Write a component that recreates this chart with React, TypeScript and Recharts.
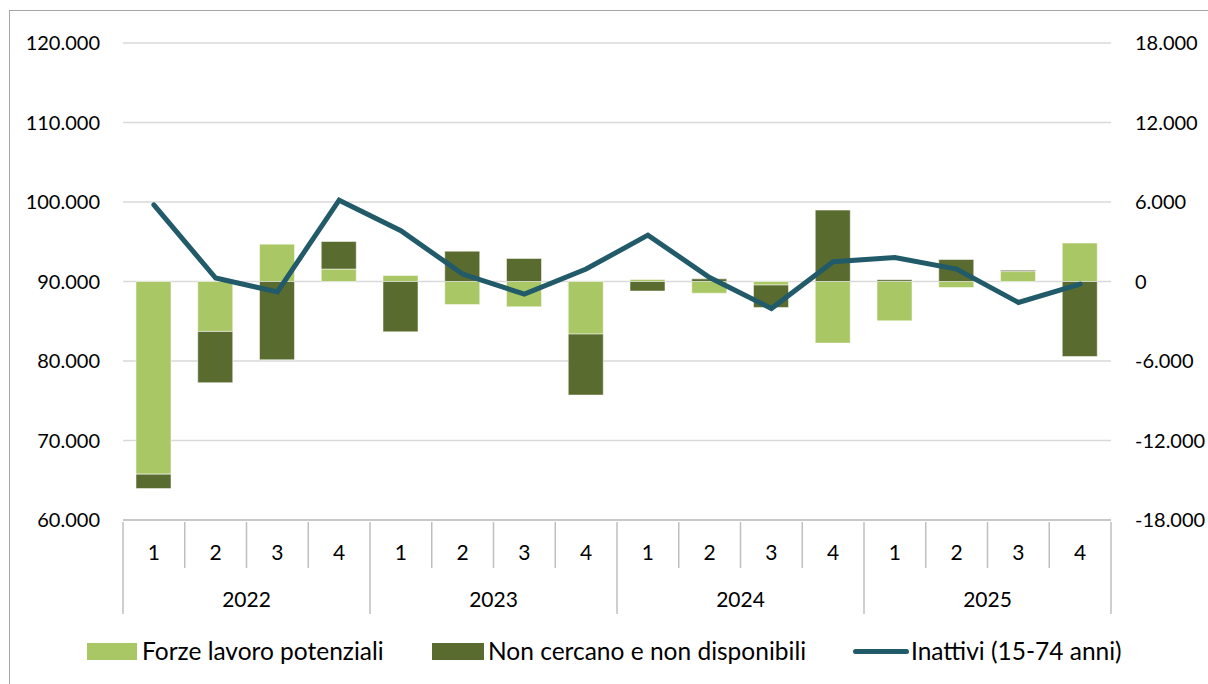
import React from "react";
import {
  ComposedChart,
  Bar,
  Line,
  XAxis,
  YAxis,
  CartesianGrid,
} from "recharts";

const quarters = ["1", "2", "3", "4", "1", "2", "3", "4", "1", "2", "3", "4", "1", "2", "3", "4"];
const years = ["2022", "2023", "2024", "2025"];

// variazioni tendenziali (asse destro)
const forzeLavoro = [-14540, -3770, 2820, 940, 450, -1740, -1910, -3970, 150, -880, -270, -4650, -2970, -450, 750, 2900];
const nonCercano = [-1090, -3870, -5910, 2080, -3800, 2290, 1740, -4600, -720, 200, -1690, 5390, 130, 1660, 100, -5660];
const inattivi = [5790, 260, -780, 6140, 3830, 560, -950, 940, 3500, 300, -2040, 1490, 1810, 940, -1580, -200];

// the left scale (livelli) sits on the same gridlines as the right one
const leftTicks = [60000, 70000, 80000, 90000, 100000, 110000, 120000];
const rightTicks = [-18000, -12000, -6000, 0, 6000, 12000, 18000];

const LIGHT = "#a9c764";
const DARK = "#5a6b2f";
const TEAL = "#215a69";
const AXIS_GREY = "#bfbfbf";
const FONT = "Lato, 'Open Sans', sans-serif";

const data = quarters.map((q, i) => ({
  key: `${years[Math.floor(i / 4)]}-${q}`,
  q,
  year: years[Math.floor(i / 4)],
  forze: forzeLavoro[i],
  nonCercano: nonCercano[i],
  inattivi: inattivi[i],
}));

function fmt(v: number) {
  const s = Math.abs(v).toString().replace(/\B(?=(\d{3})+(?!\d))/g, ".");
  return v < 0 ? "-" + s : s;
}

// eslint-disable-next-line @typescript-eslint/no-explicit-any
function CategoryTick(props: any) {
  const { x, y, payload, index, width, visibleTicksCount } = props;
  const count = visibleTicksCount || quarters.length;
  const band = width ? width / count : 988 / quarters.length;
  const left = x - band / 2;
  const right = x + band / 2;
  const yearStart = index % 4 === 0;
  const row = data[index];
  return (
    <g>
      <line x1={left} x2={left} y1={y} y2={y + (yearStart ? 92 : 46)} stroke={AXIS_GREY} strokeWidth={1.5} />
      {index === count - 1 && (
        <line x1={right} x2={right} y1={y} y2={y + 92} stroke={AXIS_GREY} strokeWidth={1.5} />
      )}
      <text x={x} y={y + 38} textAnchor="middle" fontSize={21} fill="#000" fontFamily={FONT}>
        {row ? row.q : payload.value}
      </text>
      {index % 4 === 1 && row && (
        <text x={right} y={y + 85} textAnchor="middle" fontSize={21} fill="#000" fontFamily={FONT}>
          {row.year}
        </text>
      )}
    </g>
  );
}

function LegendBox() {
  const text: React.CSSProperties = {
    position: "absolute",
    top: 637,
    fontSize: 24.5,
    lineHeight: "28px",
    color: "#000",
    fontFamily: FONT,
    whiteSpace: "nowrap",
  };
  return (
    <>
      <div style={{ position: "absolute", left: 87, top: 643, width: 50, height: 17, background: LIGHT }} />
      <div style={{ ...text, left: 142 }}>Forze lavoro potenziali</div>
      <div style={{ position: "absolute", left: 432, top: 643, width: 52, height: 17, background: DARK }} />
      <div style={{ ...text, left: 488 }}>Non cercano e non disponibili</div>
      <div
        style={{
          position: "absolute",
          left: 853,
          top: 649,
          width: 56,
          height: 5,
          borderRadius: 3,
          background: TEAL,
        }}
      />
      <div style={{ ...text, left: 911 }}>Inattivi (15-74 anni)</div>
    </>
  );
}

export default function App() {
  return (
    <div
      style={{
        position: "absolute",
        left: 0,
        top: 0,
        width: 1208,
        height: 684,
        overflow: "hidden",
        background: "#fff",
        fontFamily: FONT,
      }}
    >
      <div
        style={{
          position: "absolute",
          left: 9,
          top: 10,
          width: 1400,
          height: 900,
          border: "1.5px solid #a6a6a6",
        }}
      />
      <div style={{ position: "absolute", left: 0, top: 0 }}>
        <ComposedChart
          width={1208}
          height={684}
          data={data}
          stackOffset="sign"
          margin={{ top: 43, right: 0, bottom: 72, left: 0 }}
        >
          <CartesianGrid yAxisId="right" vertical={false} stroke="#d9d9d9" strokeWidth={1.5} />
          <XAxis
            dataKey="key"
            height={92}
            interval={0}
            tickLine={false}
            tickSize={0}
            axisLine={{ stroke: AXIS_GREY, strokeWidth: 1.5 }}
            tick={<CategoryTick />}
          />
          <YAxis
            yAxisId="left"
            orientation="left"
            width={123}
            domain={[-18000, 18000]}
            ticks={rightTicks}
            tickFormatter={(_v: number, i: number) => fmt(leftTicks[i])}
            axisLine={false}
            tickLine={false}
            tickSize={0}
            tickMargin={23}
            tick={{ fontSize: 20, fill: "#000", fontFamily: FONT }}
          />
          <YAxis
            yAxisId="right"
            orientation="right"
            width={97}
            domain={[-18000, 18000]}
            ticks={rightTicks}
            tickFormatter={fmt}
            axisLine={false}
            tickLine={false}
            tickSize={0}
            tickMargin={24}
            tick={{ fontSize: 20, fill: "#000", fontFamily: FONT, textAnchor: "start" }}
          />
          <Bar
            yAxisId="left"
            dataKey="forze"
            stackId="a"
            fill={LIGHT}
            stroke="rgba(255,255,255,0.5)"
            strokeWidth={1}
            barSize={35}
            isAnimationActive={false}
          />
          <Bar
            yAxisId="left"
            dataKey="nonCercano"
            stackId="a"
            fill={DARK}
            stroke="rgba(255,255,255,0.5)"
            strokeWidth={1}
            barSize={35}
            isAnimationActive={false}
          />
          <Line
            yAxisId="right"
            dataKey="inattivi"
            type="linear"
            stroke={TEAL}
            strokeWidth={5}
            strokeLinecap="round"
            dot={false}
            activeDot={false}
            isAnimationActive={false}
          />
        </ComposedChart>
      </div>
      <LegendBox />
    </div>
  );
}
